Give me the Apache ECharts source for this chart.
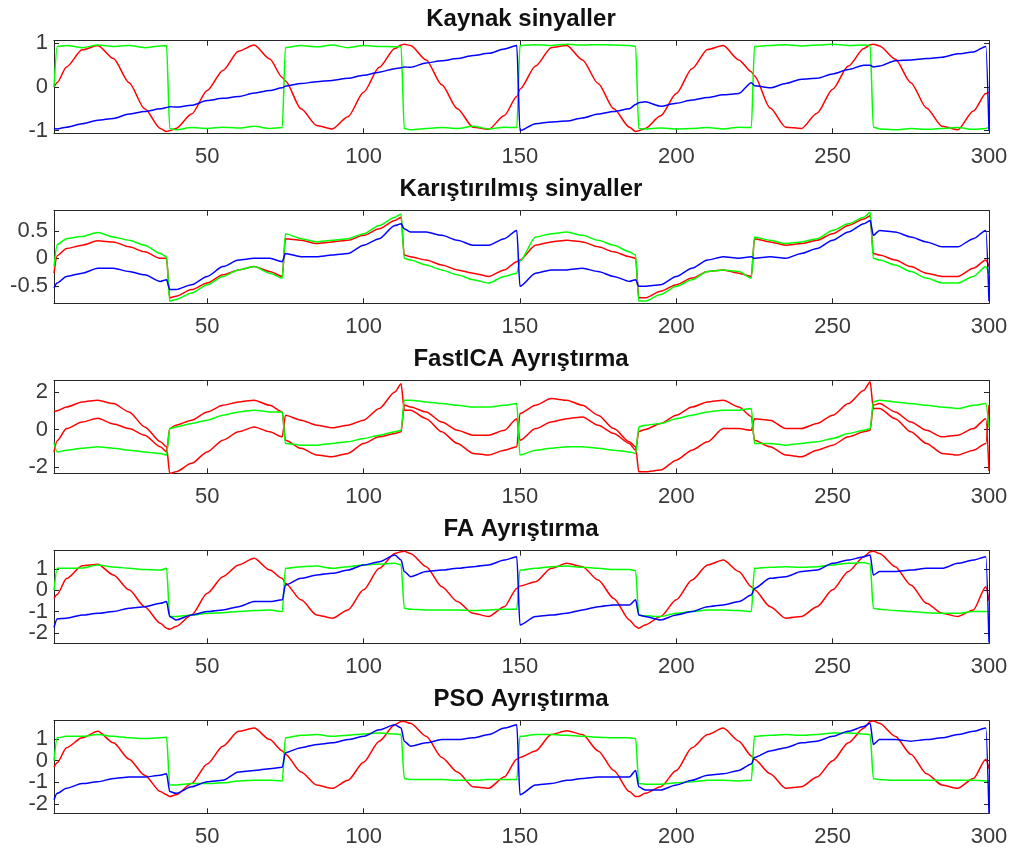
<!DOCTYPE html>
<html>
<head>
<meta charset="utf-8">
<script src="https://cdn.jsdelivr.net/npm/echarts@6/dist/echarts.min.js"></script>
<style>
html, body { margin: 0; background: #fff; }
#main { width: 1017px; height: 850px; }
</style>
</head>
<body>
<div id="main"></div>
<script>
// sample positions (extra points at the jumps)
var X = [1, 2, 5, 10, 15, 20, 25, 30, 35, 37,
  38, 40, 45, 50, 55, 60, 65, 70, 74,
  75, 80, 85, 90, 95, 100, 105, 110, 112,
  113, 115, 120, 125, 130, 135, 140, 145, 149,
  150, 155, 160, 165, 170, 175, 180, 185, 187,
  188, 190, 195, 200, 205, 210, 215, 220, 224,
  225, 230, 235, 240, 245, 250, 255, 260, 262,
  263, 265, 270, 275, 280, 285, 290, 295, 299,
  300];
var xTicks = [50, 100, 150, 200, 250, 300];

// Kaynak sinyaller
var kaynakR = [0.0, 0.1, 0.46, 0.85, 0.95, 0.65, 0.1, -0.5, -0.95, -1.02,
  -1.0, -0.95, -0.62, -0.08, 0.38, 0.82, 0.96, 0.64, 0.22,
  0.14, -0.5, -0.88, -0.96, -0.68, -0.12, 0.45, 0.88, 0.96,
  0.98, 0.95, 0.62, 0.05, -0.5, -0.92, -0.97, -0.65, -0.22,
  -0.05, 0.48, 0.9, 0.95, 0.62, 0.08, -0.5, -0.92, -1.02,
  -1.0, -0.95, -0.66, -0.15, 0.42, 0.86, 0.95, 0.62, 0.35,
  0.25, -0.48, -0.92, -0.95, -0.6, -0.05, 0.48, 0.88, 0.97,
  0.98, 0.94, 0.64, 0.1, -0.48, -0.9, -0.98, -0.55, -0.15,
  -0.12];
var kaynakG = [0.0, 0.93, 0.95, 0.9, 0.96, 0.93, 0.95, 0.9, 0.94, 0.95,
  -0.95, -0.98, -0.93, -0.95, -0.92, -0.94, -0.9, -0.95, -0.93,
  0.9, 0.95, 0.92, 0.96, 0.9, 0.95, 0.93, 0.92, 0.92,
  -0.95, -0.98, -0.95, -0.93, -0.95, -0.9, -0.96, -0.92, -0.93,
  0.95, 0.97, 0.95, 0.98, 0.96, 0.97, 0.96, 0.95, 0.93,
  -0.95, -0.96, -0.94, -0.96, -0.95, -0.93, -0.96, -0.92, -0.93,
  0.93, 0.95, 0.97, 0.94, 0.96, 0.98, 0.95, 0.96, 0.95,
  -0.92, -0.96, -0.98, -0.95, -0.97, -0.95, -0.93, -0.97, -0.95,
  -0.92];
var kaynakB = [-0.95, -0.96, -0.92, -0.84, -0.76, -0.72, -0.62, -0.56, -0.5, -0.47,
  -0.45, -0.46, -0.42, -0.31, -0.26, -0.22, -0.14, -0.08, -0.02,
  0.02, 0.08, 0.12, 0.15, 0.2, 0.27, 0.34, 0.42, 0.44,
  0.46, 0.45, 0.55, 0.6, 0.65, 0.72, 0.77, 0.87, 0.95,
  -1.0, -0.84, -0.8, -0.78, -0.71, -0.62, -0.56, -0.5, -0.4,
  -0.36, -0.34, -0.44, -0.37, -0.3, -0.24, -0.18, -0.15, 0.1,
  0.03, -0.02, 0.08, 0.18, 0.2, 0.3, 0.4, 0.5, 0.5,
  0.46, 0.48, 0.6, 0.62, 0.65, 0.68, 0.76, 0.8, 0.93,
  -1.0];

// Karistirilmis sinyaller
var karisikR = [-0.27, 0.05, 0.18, 0.24, 0.32, 0.3, 0.21, 0.12, 0.0, 0.0,
  -0.72, -0.69, -0.57, -0.45, -0.3, -0.21, -0.15, -0.24, -0.33,
  0.36, 0.33, 0.27, 0.3, 0.33, 0.42, 0.54, 0.69, 0.75,
  0.06, 0.03, -0.03, -0.12, -0.21, -0.27, -0.33, -0.21, -0.06,
  -0.03, 0.24, 0.3, 0.33, 0.3, 0.21, 0.12, 0.03, 0.0,
  -0.72, -0.72, -0.6, -0.48, -0.36, -0.24, -0.21, -0.27, -0.33,
  0.36, 0.3, 0.24, 0.27, 0.33, 0.45, 0.6, 0.72, 0.78,
  0.09, 0.06, -0.03, -0.15, -0.27, -0.33, -0.33, -0.18, -0.03,
  -0.15];
var karisikG = [-0.15, 0.25, 0.36, 0.4, 0.47, 0.39, 0.33, 0.24, 0.09, 0.03,
  -0.78, -0.75, -0.63, -0.48, -0.33, -0.21, -0.15, -0.27, -0.36,
  0.45, 0.36, 0.3, 0.33, 0.36, 0.45, 0.6, 0.75, 0.81,
  0.0, -0.03, -0.12, -0.21, -0.3, -0.39, -0.45, -0.33, -0.27,
  -0.05, 0.39, 0.45, 0.48, 0.42, 0.33, 0.24, 0.12, 0.06,
  -0.78, -0.78, -0.66, -0.51, -0.39, -0.24, -0.21, -0.24, -0.36,
  0.39, 0.33, 0.27, 0.3, 0.36, 0.51, 0.63, 0.75, 0.84,
  0.0, -0.03, -0.12, -0.24, -0.36, -0.45, -0.45, -0.33, -0.15,
  -0.3];
var karisikB = [-0.54, -0.45, -0.33, -0.27, -0.18, -0.18, -0.24, -0.3, -0.42, -0.39,
  -0.57, -0.57, -0.48, -0.33, -0.15, -0.03, 0.0, 0.0, -0.06,
  0.09, 0.03, 0.03, 0.06, 0.09, 0.24, 0.36, 0.6, 0.63,
  0.54, 0.48, 0.48, 0.42, 0.33, 0.24, 0.24, 0.36, 0.51,
  -0.51, -0.27, -0.21, -0.21, -0.18, -0.24, -0.33, -0.42, -0.39,
  -0.51, -0.51, -0.48, -0.33, -0.18, -0.03, 0.03, 0.0, 0.03,
  0.0, 0.03, 0.0, 0.09, 0.18, 0.33, 0.48, 0.63, 0.69,
  0.42, 0.51, 0.48, 0.39, 0.3, 0.21, 0.21, 0.36, 0.51,
  -0.78];

// FastICA Ayristirma (two red outputs, one green)
var icaR1 = [-1.2, -0.6, 0.05, 0.4, 0.6, 0.3, 0.05, -0.3, -0.92, -1.19,
  0.05, 0.23, 0.5, 0.94, 1.29, 1.47, 1.56, 1.29, 0.94,
  -0.57, -1.0, -1.36, -1.45, -1.27, -0.74, -0.39, -0.21, -0.12,
  1.3, 1.2, 0.94, 0.4, -0.04, -0.3, -0.3, -0.04, 0.58,
  -0.57, 0.05, 0.4, 0.58, 0.67, 0.23, -0.21, -0.74, -1.1,
  -0.1, 0.0, 0.32, 0.76, 1.2, 1.47, 1.56, 1.2, 0.7,
  -0.57, -0.92, -1.36, -1.45, -1.1, -0.83, -0.39, -0.12, -0.04,
  1.3, 1.38, 0.94, 0.4, -0.04, -0.39, -0.3, 0.05, 0.58,
  -2.2];
var icaR2 = [0.94, 1.0, 1.2, 1.47, 1.56, 1.38, 0.94, 0.14, -0.65, -0.92,
  -2.34, -2.25, -1.8, -1.19, -0.57, -0.12, 0.14, -0.12, -0.39,
  0.76, 0.5, 0.23, 0.1, 0.23, 0.5, 1.12, 2.0, 2.44,
  1.03, 1.03, 0.58, -0.12, -0.74, -1.27, -1.36, -1.1, -0.92,
  0.85, 1.29, 1.65, 1.56, 1.29, 0.76, 0.05, -0.65, -0.92,
  -2.25, -2.25, -2.16, -1.63, -1.1, -0.65, 0.05, 0.05, -0.04,
  0.58, 0.5, 0.05, 0.05, 0.32, 0.76, 1.38, 2.09, 2.55,
  1.12, 1.12, 0.58, -0.12, -0.74, -1.27, -1.36, -1.1, -0.74,
  1.3];
var icaG = [-0.7, -1.2, -1.1, -1.0, -0.92, -1.0, -1.1, -1.19, -1.27, -1.36,
  0.05, 0.14, 0.32, 0.5, 0.76, 0.94, 1.03, 0.94, 0.94,
  -0.74, -0.83, -0.83, -0.74, -0.65, -0.48, -0.3, -0.12, -0.04,
  1.56, 1.56, 1.47, 1.38, 1.29, 1.2, 1.2, 1.29, 1.38,
  -1.36, -1.1, -1.0, -0.92, -0.92, -1.0, -1.1, -1.19, -1.27,
  0.14, 0.23, 0.32, 0.58, 0.76, 0.94, 1.03, 1.03, 1.12,
  -0.74, -0.74, -0.83, -0.74, -0.65, -0.48, -0.21, -0.04, 0.05,
  1.47, 1.56, 1.47, 1.38, 1.29, 1.2, 1.12, 1.29, 1.38,
  0.1];

// FA Ayristirma
var faR = [-0.38, -0.2, 0.55, 1.15, 1.22, 0.72, 0.02, -0.77, -1.55, -1.78,
  -1.83, -1.7, -1.16, -0.14, 0.64, 1.19, 1.5, 0.95, 0.56,
  0.33, -0.45, -1.16, -1.31, -0.92, 0.02, 1.03, 1.73, 1.81,
  1.84, 1.73, 1.11, 0.17, -0.53, -1.08, -1.23, -0.77, 0.09,
  0.2, 0.4, 1.03, 1.27, 1.11, 0.48, -0.38, -1.39, -1.7,
  -1.78, -1.63, -1.23, -0.45, 0.48, 1.19, 1.42, 0.88, 0.17,
  0.02, -0.77, -1.31, -1.23, -0.77, 0.02, 0.88, 1.58, 1.81,
  1.84, 1.73, 1.11, 0.25, -0.61, -1.08, -1.23, -0.92, 0.17,
  -0.5];
var faG = [0.0, 1.03, 1.03, 1.05, 1.19, 1.1, 1.03, 0.98, 0.95, 1.03,
  -1.23, -1.23, -1.16, -1.08, -1.05, -1.0, -0.95, -0.92, -1.0,
  1.03, 1.11, 1.14, 1.03, 1.11, 1.19, 1.23, 1.27, 1.19,
  -0.84, -0.89, -0.92, -0.92, -0.92, -0.95, -0.92, -0.89, -0.89,
  0.95, 1.03, 1.11, 1.14, 1.08, 1.03, 0.98, 0.98, 0.92,
  -1.16, -1.2, -1.23, -1.08, -1.0, -0.92, -0.92, -0.95, -1.0,
  1.03, 1.08, 1.11, 1.08, 1.11, 1.19, 1.27, 1.3, 1.23,
  -0.84, -0.89, -0.95, -1.0, -1.05, -1.08, -1.08, -1.0, -1.0,
  -1.0];
var faB = [-1.75, -1.35, -1.31, -1.16, -1.08, -1.0, -0.84, -0.77, -0.61, -0.53,
  -1.23, -1.39, -1.16, -1.0, -0.92, -0.77, -0.53, -0.53, -0.45,
  0.25, 0.56, 0.72, 0.8, 0.95, 1.19, 1.34, 1.66, 1.42,
  0.88, 0.64, 0.88, 0.95, 1.03, 1.11, 1.19, 1.42, 1.58,
  -1.63, -1.23, -1.16, -1.08, -0.92, -0.77, -0.69, -0.69, -0.45,
  -1.16, -1.23, -1.39, -1.16, -1.0, -0.77, -0.69, -0.53, -0.22,
  0.09, 0.56, 0.64, 0.88, 0.95, 1.27, 1.42, 1.58, 1.66,
  0.72, 0.88, 0.88, 0.95, 1.03, 1.03, 1.27, 1.42, 1.58,
  -2.45];

// PSO Ayristirma
var psoR = [-0.3, -0.1, 0.6, 1.05, 1.35, 0.82, 0.07, -0.67, -1.42, -1.57,
  -1.65, -1.57, -1.05, -0.15, 0.67, 1.35, 1.5, 0.97, 0.45,
  0.3, -0.52, -1.12, -1.27, -0.9, -0.07, 0.9, 1.65, 1.8,
  1.8, 1.72, 1.12, 0.15, -0.52, -1.2, -1.27, -0.75, 0.07,
  0.15, 0.45, 1.2, 1.38, 1.2, 0.45, -0.45, -1.42, -1.65,
  -1.65, -1.5, -1.2, -0.45, 0.6, 1.2, 1.5, 0.9, 0.22,
  0.07, -0.6, -1.27, -1.2, -0.75, 0.0, 0.82, 1.5, 1.8,
  1.83, 1.72, 1.12, 0.3, -0.6, -1.12, -1.27, -0.82, 0.07,
  -0.37];
var psoG = [0.0, 1.05, 1.12, 1.12, 1.2, 1.12, 1.05, 1.02, 1.05, 1.08,
  -1.12, -1.12, -1.05, -1.05, -1.02, -0.93, -0.9, -0.9, -0.93,
  1.05, 1.17, 1.2, 1.12, 1.17, 1.23, 1.27, 1.23, 1.2,
  -0.82, -0.87, -0.87, -0.87, -0.9, -0.9, -0.87, -0.87, -0.87,
  1.12, 1.2, 1.2, 1.17, 1.12, 1.08, 1.05, 1.05, 1.02,
  -1.05, -1.08, -1.08, -1.02, -0.97, -0.9, -0.9, -0.93, -0.9,
  1.12, 1.17, 1.2, 1.17, 1.2, 1.27, 1.27, 1.23, 1.2,
  -0.82, -0.87, -0.9, -0.9, -0.9, -0.9, -0.9, -0.9, -0.93,
  -0.93];
var psoB = [-1.8, -1.5, -1.27, -1.05, -0.97, -0.82, -0.75, -0.75, -0.67, -0.6,
  -1.42, -1.5, -1.2, -0.97, -0.9, -0.52, -0.45, -0.37, -0.3,
  0.37, 0.6, 0.75, 0.82, 0.97, 1.12, 1.42, 1.65, 1.5,
  0.9, 0.67, 0.82, 0.97, 0.97, 1.05, 1.2, 1.5, 1.65,
  -1.57, -1.12, -1.05, -0.9, -0.82, -0.75, -0.75, -0.75, -0.45,
  -1.2, -1.35, -1.35, -1.12, -0.9, -0.67, -0.6, -0.45, -0.15,
  0.15, 0.45, 0.6, 0.82, 0.9, 1.12, 1.35, 1.57, 1.72,
  0.75, 0.97, 0.97, 0.9, 0.97, 1.05, 1.2, 1.35, 1.5,
  -2.4];

var RED = '#ff0000', GREEN = '#00ff00', BLUE = '#0000ff';

var panels = [
  { title: 'Kaynak sinyaller', min: -1.06, max: 1.06, yTicks: [-1, 0, 1],
    lines: [[kaynakR, RED], [kaynakG, GREEN], [kaynakB, BLUE]] },
  { title: 'Karıştırılmış sinyaller', min: -0.82, max: 0.87, yTicks: [-0.5, 0, 0.5],
    lines: [[karisikR, RED], [karisikG, GREEN], [karisikB, BLUE]] },
  { title: 'FastICA Ayrıştırma', min: -2.33, max: 2.6, yTicks: [-2, 0, 2],
    lines: [[icaR1, RED], [icaR2, RED], [icaG, GREEN]] },
  { title: 'FA Ayrıştırma', min: -2.49, max: 1.86, yTicks: [-2, -1, 0, 1],
    lines: [[faR, RED], [faG, GREEN], [faB, BLUE]] },
  { title: 'PSO Ayrıştırma', min: -2.42, max: 1.84, yTicks: [-2, -1, 0, 1],
    lines: [[psoR, RED], [psoG, GREEN], [psoB, BLUE]] }
];

var FONT = '"Liberation Sans", Arial, Helvetica, sans-serif';
var frameColor = '#262626';
var labelColor = '#3a3a3a';

var grids = [], xAxes = [], yAxes = [], series = [], texts = [];

function yLabel(values) {
  return { show: true, customValues: values, fontSize: 22, fontFamily: FONT,
    color: labelColor, margin: 6, hideOverlap: false };
}

panels.forEach(function (p, i) {
  var top = 40.7 + 170 * i;
  grids.push({ left: 54, right: 28, top: top, height: 92.6 });

  ['bottom', 'top'].forEach(function (pos) {
    xAxes.push({
      gridIndex: i, type: 'value', position: pos, min: 1, max: 300,
      axisLine: { show: true, onZero: false, lineStyle: { color: frameColor, width: 1 } },
      axisTick: { show: true, inside: true, length: 5, customValues: xTicks,
        lineStyle: { color: frameColor } },
      axisLabel: { show: pos === 'bottom', customValues: xTicks, fontSize: 22,
        fontFamily: FONT, color: labelColor, margin: 13 },
      splitLine: { show: false }
    });
  });

  // close labels get thinned out by echarts, so split them over two left axes
  var evenTicks = p.yTicks.filter(function (v, k) { return k % 2 === 0; });
  var oddTicks = p.yTicks.filter(function (v, k) { return k % 2 === 1; });

  // left: frame + ticks + half the labels
  yAxes.push({
    gridIndex: i, type: 'value', position: 'left', min: p.min, max: p.max,
    axisLine: { show: true, onZero: false, lineStyle: { color: frameColor, width: 1 } },
    axisTick: { show: true, inside: true, length: 5, customValues: p.yTicks,
      lineStyle: { color: frameColor } },
    axisLabel: yLabel(evenTicks),
    splitLine: { show: false }
  });
  // right: frame + ticks
  yAxes.push({
    gridIndex: i, type: 'value', position: 'right', min: p.min, max: p.max,
    axisLine: { show: true, onZero: false, lineStyle: { color: frameColor, width: 1 } },
    axisTick: { show: true, inside: true, length: 5, customValues: p.yTicks,
      lineStyle: { color: frameColor } },
    axisLabel: { show: false },
    splitLine: { show: false }
  });
  // left again: only the other labels
  yAxes.push({
    gridIndex: i, type: 'value', position: 'left', offset: 0, min: p.min, max: p.max,
    axisLine: { show: false }, axisTick: { show: false },
    axisLabel: yLabel(oddTicks),
    splitLine: { show: false }
  });

  p.lines.forEach(function (ln) {
    series.push({
      type: 'line', xAxisIndex: 2 * i, yAxisIndex: 3 * i,
      data: X.map(function (x, k) { return [x, ln[0][k]]; }),
      symbol: 'none', showSymbol: false,
      smooth: 0.25, smoothMonotone: 'x',
      lineStyle: { color: ln[1], width: 1.5 },
      itemStyle: { color: ln[1] },
      animation: false
    });
  });

  texts.push({
    type: 'text', x: 521, y: 19 + 170 * i,
    style: { text: p.title, font: 'bold 24px ' + FONT, fill: '#111',
      textAlign: 'center', textVerticalAlign: 'middle',
      align: 'center', verticalAlign: 'middle' }
  });
});

var myChart = echarts.init(document.getElementById('main'));
myChart.setOption({
  backgroundColor: '#fff',
  animation: false,
  grid: grids,
  xAxis: xAxes,
  yAxis: yAxes,
  series: series,
  graphic: { elements: texts }
});
</script>
</body>
</html>
